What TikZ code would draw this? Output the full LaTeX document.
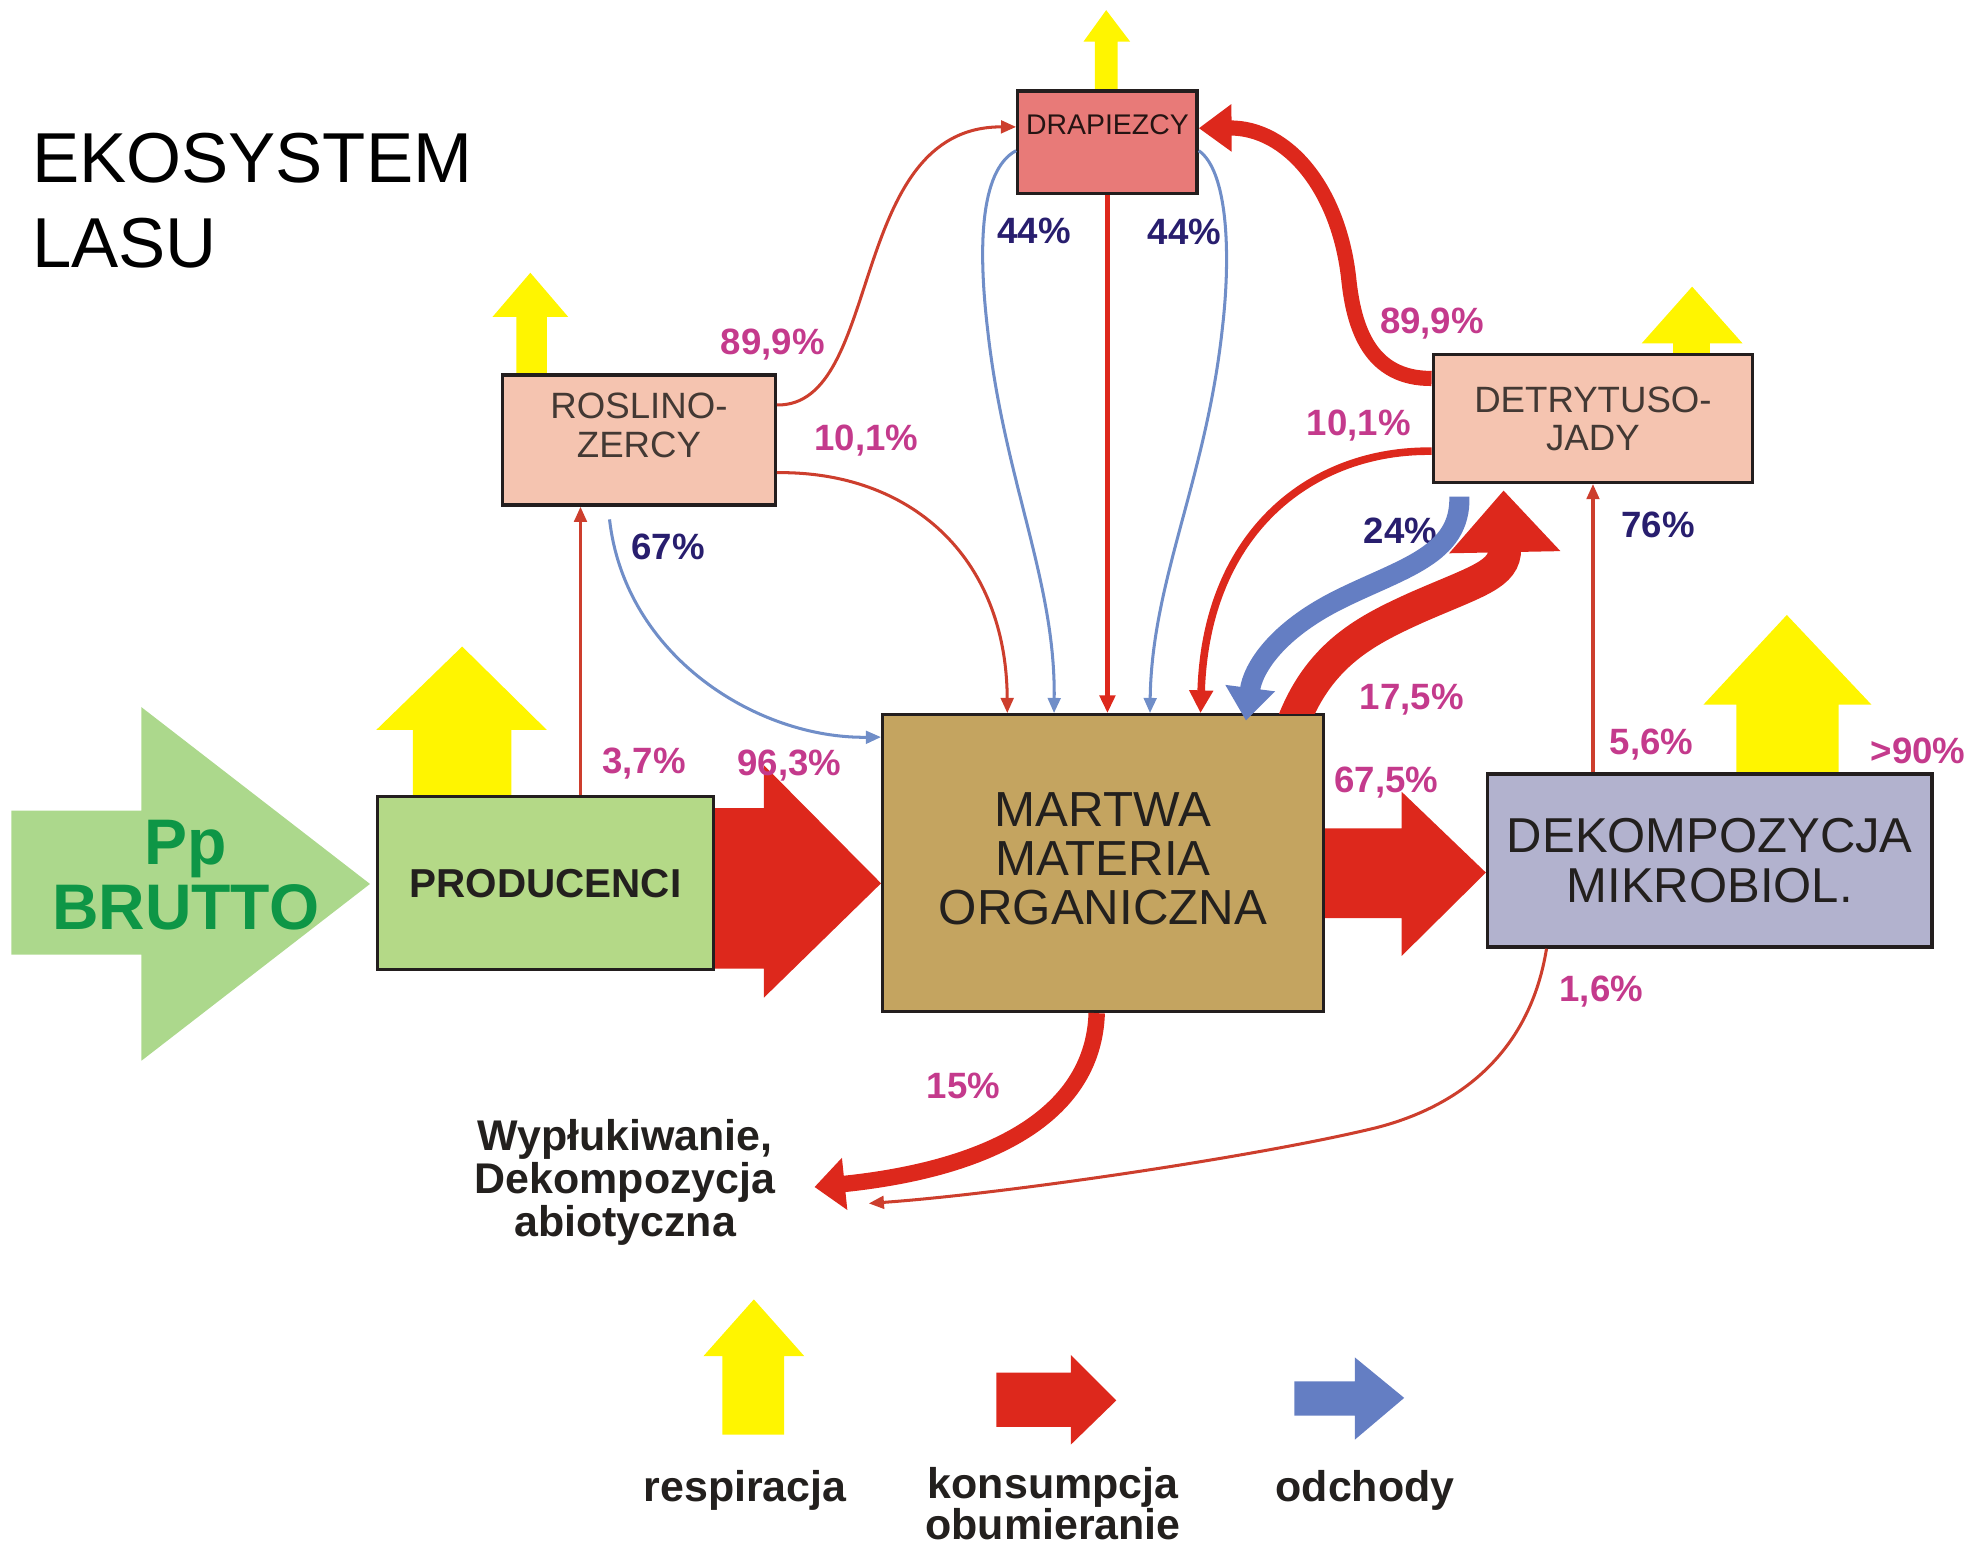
\documentclass[tikz,border=0pt]{standalone}
\usepackage{fontspec}
\setmainfont{Liberation Sans}
\usetikzlibrary{arrows.meta,calc,backgrounds}

\definecolor{cYel}{RGB}{255,245,0}
\definecolor{cRed}{RGB}{221,40,28}
\definecolor{cThin}{RGB}{205,62,45}
\definecolor{cBlue}{RGB}{112,142,200}
\definecolor{cBlueW}{RGB}{100,126,195}
\definecolor{cMag}{RGB}{196,58,140}
\definecolor{cNavy}{RGB}{40,30,110}
\definecolor{cGreenA}{RGB}{172,216,140}
\definecolor{cGreenT}{RGB}{14,150,70}
\definecolor{cDrap}{RGB}{232,122,120}
\definecolor{cPeach}{RGB}{245,196,176}
\definecolor{cProd}{RGB}{180,217,135}
\definecolor{cMart}{RGB}{196,164,96}
\definecolor{cDek}{RGB}{178,178,206}
\definecolor{cEdge}{RGB}{35,30,30}
\definecolor{cTxt}{RGB}{35,32,30}

\begin{document}
\begin{tikzpicture}[x=0.5pt,y=-0.5pt,
  box/.style={draw=cEdge, line width=1.3pt, inner sep=0pt},
  pct/.style={font=\bfseries\fontsize{14.5}{15}\selectfont, text=cMag, inner sep=0pt},
  pctn/.style={pct, text=cNavy},
  legtext/.style={font=\bfseries\fontsize{17}{17}\selectfont, text=cTxt, inner sep=0pt, align=center},
  thinred/.style={draw=cThin, line width=1.2pt, -{Triangle[length=6pt,width=5pt]}},
  thinblue/.style={draw=cBlue, line width=1.2pt, -{Triangle[length=6pt,width=5pt]}},
]
\useasboundingbox (0,0) rectangle (1568,1228);

% title
\node[anchor=north west, inner sep=0pt, align=left,
      font=\fontsize{28}{33.5}\selectfont] (title) at (25,105) {EKOSYSTEM\\LASU};

% boxes
\node[box, fill=cDrap, minimum width=71pt, minimum height=40.5pt] (drap) at (877,112.5) {};
\node[inner sep=0pt, text=black!60!cDrap!40!black, font=\fontsize{11.25}{12}\selectfont] (drapT) at (877,99) {DRAPIEZCY};

\node[box, fill=cPeach, minimum width=108pt, minimum height=51.5pt] (rosl) at (506,348.5) {};
\node[inner sep=0pt, align=center, text=cTxt!85!cPeach, font=\fontsize{14.5}{15.5}\selectfont] (roslT) at (506,337) {ROSLINO-\\ZERCY};

\node[box, fill=cPeach, minimum width=126.5pt, minimum height=50.5pt, align=center,
      text=cTxt!85!cPeach, font=\fontsize{14.5}{15}\selectfont] (detr) at (1261.5,331.5) {DETRYTUSO-\\JADY};

\node[box, fill=cProd, minimum width=133pt, minimum height=68.5pt,
      text=cTxt, font=\bfseries\fontsize{16}{16}\selectfont] (prod) at (432,699.5) {PRODUCENCI};

\node[box, fill=cMart, minimum width=174.5pt, minimum height=117.5pt] (mart) at (873.5,683.5) {};
\node[inner sep=0pt, align=center, text=cTxt, font=\fontsize{19.5}{19.5}\selectfont] (martT) at (873.5,680) {MARTWA\\MATERIA\\ORGANICZNA};

\node[box, fill=cDek, minimum width=176pt, minimum height=68.5pt, align=center,
      text=cTxt, font=\fontsize{19.4}{20}\selectfont] (dek) at (1354,681.5) {DEKOMPOZYCJA\\MIKROBIOL.};

% outflow text
\node[legtext, anchor=north] (wyp) at (495,886) {Wypłukiwanie,\\Dekompozycja\\abiotyczna};
\coordinate (wypIn) at (645,940);
\coordinate (wypIn2) at (688,953);

% broad flows, respiration arrows and the input arrow, behind the boxes
\begin{scope}[on background layer]
  % gross primary production
  \fill[cGreenA] (9,642) -- (112,642) -- (112,560) -- (293,700) -- (112,840) -- (112,756) -- (9,756) -- cycle;
  % respiration
  \fill[cYel] (409,297) -- (409,251) -- (390,251) -- (420,216) -- (450,251) -- (433,251) -- (433,297) -- cycle;
  \fill[cYel] (867,72) -- (867,33) -- (858,33) -- (876,8) -- (895,33) -- (885,33) -- (885,72) -- cycle;
  \fill[cYel] (1325,281) -- (1325,272) -- (1300,272) -- (1340,227) -- (1380,272) -- (1354,272) -- (1354,281) -- cycle;
  \fill[cYel] (327,631) -- (327,578) -- (298,578) -- (366,512) -- (433,578) -- (405,578) -- (405,631) -- cycle;
  \fill[cYel] (1375,613) -- (1375,558) -- (1349,558) -- (1415,487) -- (1482,558) -- (1456,558) -- (1456,613) -- cycle;
  % producers -> dead organic matter
  \fill[cRed] (prod.east |- 0,640) -- (605,640) -- (605,606) -- (mart.west |- prod.east)
              -- (605,790) -- (605,767) -- (prod.east |- 0,767) -- cycle;
  % dead organic matter -> microbial decomposition
  \fill[cRed] (mart.east |- 0,656) -- (1110,656) -- (1110,627) -- (dek.west |- 0,691)
              -- (1110,757) -- (1110,727) -- (mart.east |- 0,727) -- cycle;
\end{scope}

\node[align=center, inner sep=0pt, text=cGreenT, font=\bfseries\fontsize{25.5}{25.5}\selectfont] (pp) at (147,693) {Pp\\BRUTTO};

% herbivores
\draw[thinred] ($(prod.north west)+(162,0)$) -- ($(rosl.south west)+(63,0)$);
\draw[thinred] ($(rosl.north east)+(0,25)$) .. controls (700,322) and (670,100) .. ($(drap.west)+(0,-12)$);
\draw[thinred] ($(rosl.south east)+(0,-27)$) .. controls (720,373) and (797,440) .. ($(mart.north west)+(100,0)$);
\draw[thinblue] ($(rosl.south west)+(86,10)$) .. controls (495,520) and (600,585) .. ($(mart.north west)+(0,19)$);

% predators
\draw[thinblue] ($(drap.south west)+(0,-35)$) .. controls (775,135) and (775,200) .. (782,260)
   .. controls (795,380) and (836,460) .. ($(mart.north west)+(137,0)$);
\draw[thinblue] ($(drap.south east)+(0,-35)$) .. controls (972,135) and (975,200) .. (968,260)
   .. controls (955,380) and (912,460) .. ($(mart.north west)+(213,0)$);
\draw[draw=cRed, line width=2pt, -{Triangle[length=7pt,width=6pt]}] (drap.south) -- (drap.south |- mart.north);

% detritivores
\draw[draw=cRed, line width=6pt, -{Triangle[length=13pt,width=18pt]}]
   ($(detr.north west)+(0,20)$) .. controls (1085,300) and (1072,260) .. (1068,220)
   .. controls (1060,150) and (1020,101) .. ($(drap.east)+(0,-11)$);
\draw[draw=cRed, line width=3pt, -{Triangle[length=9pt,width=9pt]}]
   ($(detr.south west)+(0,-26)$) .. controls (1040,356) and (955,420) .. ($(mart.north west)+(253,0)$);
\begin{scope}
  \clip (0,0) rectangle (1568,564.7);
  \draw[draw=cRed, line width=13pt, -{Triangle[length=24.5pt,width=42.5pt]}]
     ($(mart.north west)+(322,20)$) .. controls (1040,520) and (1080,500) .. (1122,481)
     .. controls (1170,460) and (1192,455) .. ($(detr.south west)+(57,5)$);
\end{scope}
\node[pctn] (l24) at (1109,420) {24\%};
\draw[draw=cBlueW, line width=8pt, -{Triangle[length=13pt,width=19pt]}]
   ($(detr.south west)+(22,10)$) .. controls (1157,440) and (1110,450) .. (1060,475)
   .. controls (1010,500) and (992,530) .. ($(mart.north west)+(289,6)$);

% microbial decomposition
\draw[thinred] (dek.north -| detr.south) -- (detr.south);
\draw[thinred] ($(dek.south west)+(48,0)$) .. controls (1212,830) and (1160,875) .. (1090,893)
   .. controls (1000,915) and (800,945) .. (wypIn2);

% leaching and abiotic decomposition
\draw[draw=cRed, line width=6.5pt, -{Triangle[length=12pt,width=20pt]}]
   ($(mart.south)+(-5,0)$) .. controls (866,880) and (790,925) .. (wypIn);

% percentages
\node[pct] (l1) at (510,605) {3,7\%};
\node[pct] (l2) at (625,606) {96,3\%};
\node[pct] (l3) at (612,273) {89,9\%};
\node[pct] (l4) at (686,349) {10,1\%};
\node[pctn] (l5) at (529,433) {67\%};
\node[pctn] (l6) at (819,183) {44\%};
\node[pctn] (l7) at (938,184) {44\%};
\node[pct] (l8) at (1134,256) {89,9\%};
\node[pct] (l9) at (1076,337) {10,1\%};
\node[pctn] (l10) at (1313,416) {76\%};
\node[pct] (l11) at (1118,554) {17,5\%};
\node[pct] (l12) at (1098,620) {67,5\%};
\node[pct] (l13) at (1308,590) {5,6\%};
\node[pct] (l14) at (1519,595) {>90\%};
\node[pct] (l15) at (1268,785) {1,6\%};
\node[pct] (l16) at (763,860) {15\%};

% legend
\fill[cYel] (572,1136) -- (572,1074) -- (557,1074) -- (597,1029) -- (637,1074) -- (621,1074) -- (621,1136) -- cycle;
\fill[cRed] (789,1087) -- (848,1087) -- (848,1073) -- (884,1109) -- (848,1144) -- (848,1130) -- (789,1130) -- cycle;
\fill[cBlueW] (1025,1094) -- (1073,1094) -- (1073,1075) -- (1112,1107) -- (1073,1140) -- (1073,1121) -- (1025,1121) -- cycle;
\node[legtext, anchor=base] (legR) at (590,1189) {respiracja};
\node[legtext, anchor=north, font=\bfseries\fontsize{17}{16}\selectfont] (legK) at (834,1162) {konsumpcja\\obumieranie};
\node[legtext, anchor=base] (legO) at (1081,1189) {odchody};

\end{tikzpicture}
\end{document}
